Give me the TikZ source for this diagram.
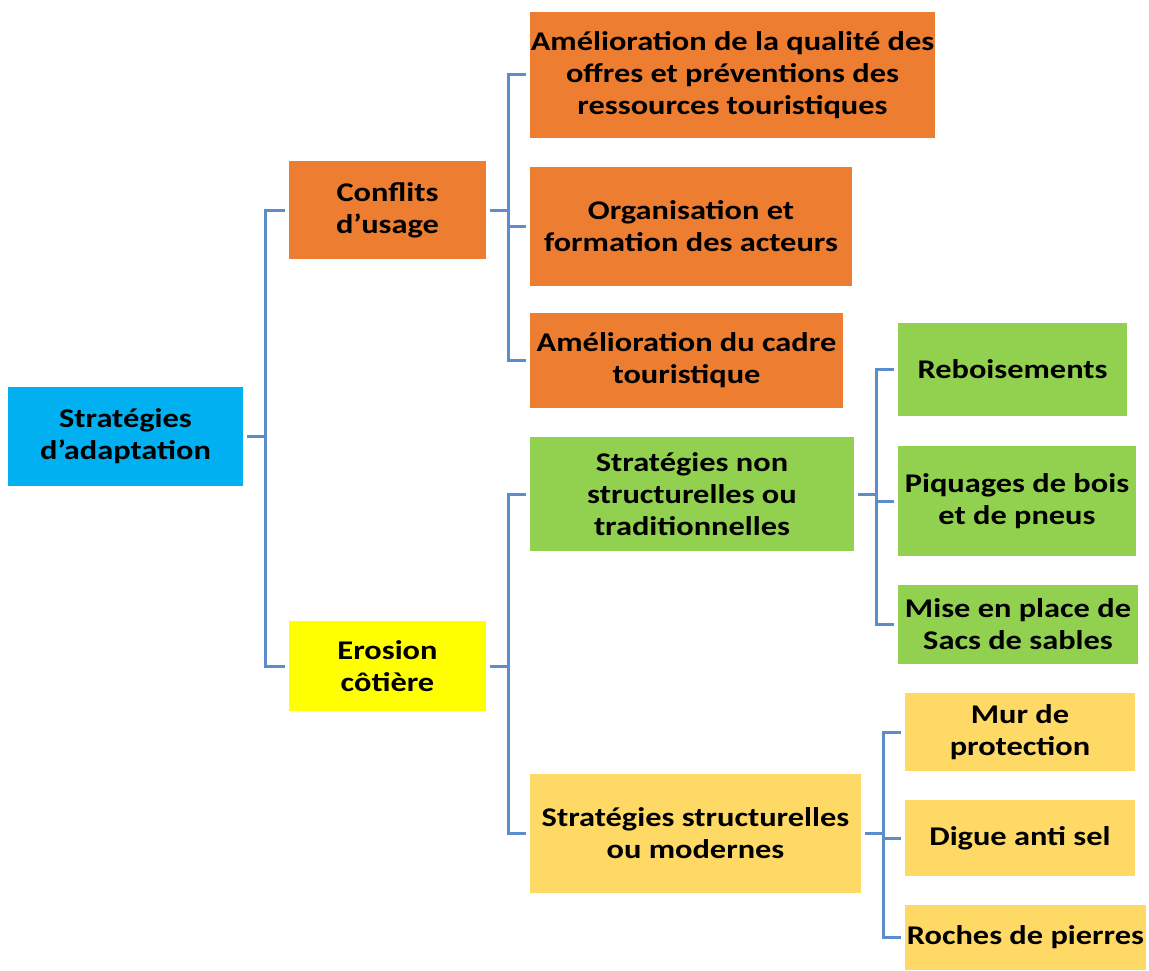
\documentclass[tikz,border=0pt]{standalone}
\usepackage{fontspec}
\setmainfont{Carlito}[FakeStretch=1.2]
\usepackage{tikz}
\usetikzlibrary{positioning,calc}
\definecolor{cblue}{RGB}{0,176,240}
\definecolor{corange}{RGB}{237,125,49}
\definecolor{cyellow}{RGB}{255,255,0}
\definecolor{cgreen}{RGB}{146,208,80}
\definecolor{cgold}{RGB}{255,217,102}
\definecolor{cline}{RGB}{91,141,201}

\begin{document}
\begin{tikzpicture}[x=1pt,y=-1pt,
  every node/.style={font=\fontsize{27}{32}\selectfont\bfseries},
  bx/.style={inner sep=1pt,align=center,text=black},
  ln/.style={cline,line width=3pt}]
\useasboundingbox (0,0) rectangle (1149,971);
% level 0
\node[bx,fill=cblue,minimum width=235,minimum height=99] (root) at (125.5,436.5)
  {Stratégies\\ d’adaptation};
% level 1
\node[bx,fill=corange,minimum width=197,minimum height=98] (conf) at (387.5,210)
  {Conflits\\ d’usage};
\node[bx,fill=cyellow,minimum width=197,minimum height=90] (eros) at (387.5,666)
  {Erosion\\ côtière};
% level 2
\node[bx,fill=corange,minimum width=405,minimum height=126] (a1) at (732.5,75)
  {Amélioration de la qualité des\\ offres et préventions des\\ ressources touristiques};
\node[bx,fill=corange,minimum width=322,minimum height=119] (a2) at (691,226.5)
  {Organisation et\\ formation des acteurs};
\node[bx,fill=corange,minimum width=313,minimum height=95] (a3) at (686.5,360.5)
  {Amélioration du cadre\\ touristique};
\node[bx,fill=cgreen,minimum width=324,minimum height=114] (s1) at (692,494)
  {Stratégies non\\ structurelles ou\\ traditionnelles};
\node[bx,fill=cgold,minimum width=331,minimum height=119] (s2) at (695.5,833.5)
  {Stratégies structurelles\\ ou modernes};
% level 3
\node[bx,fill=cgreen,minimum width=229,minimum height=93] (g1) at (1012.5,369.5)
  {Reboisements};
\node[bx,fill=cgreen,minimum width=238,minimum height=110] (g2) at (1017,501)
  {Piquages de bois\\ et de pneus};
\node[bx,fill=cgreen,minimum width=240,minimum height=79] (g3) at (1018,624.5)
  {Mise en place de\\ Sacs de sables};
\node[bx,fill=cgold,minimum width=230,minimum height=78] (y1) at (1020,732)
  {Mur de\\ protection};
\node[bx,fill=cgold,minimum width=230,minimum height=76] (y2) at (1020,838)
  {Digue anti sel};
\node[bx,fill=cgold,minimum width=241,minimum height=65] (y3) at (1025.5,937.5)
  {Roches de pierres};
% brackets
\foreach \c in {conf,eros} {\draw[ln] ([xshift=4]root.east) -- ++(18,0) |- ([xshift=-4]\c.west);}
\foreach \c in {a1,a2,a3} {\draw[ln] ([xshift=4]conf.east) -- ++(18,0) |- ([xshift=-4]\c.west);}
\foreach \c in {s1,s2} {\draw[ln] ([xshift=4]eros.east) -- ++(18,0) |- ([xshift=-4]\c.west);}
\foreach \c in {g1,g2,g3} {\draw[ln] ([xshift=4]s1.east) -- ++(18,0) |- ([xshift=-4]\c.west);}
\foreach \c in {y1,y2,y3} {\draw[ln] ([xshift=4]s2.east) -- ++(18,0) |- ([xshift=-4]\c.west);}
\end{tikzpicture}
\end{document}
